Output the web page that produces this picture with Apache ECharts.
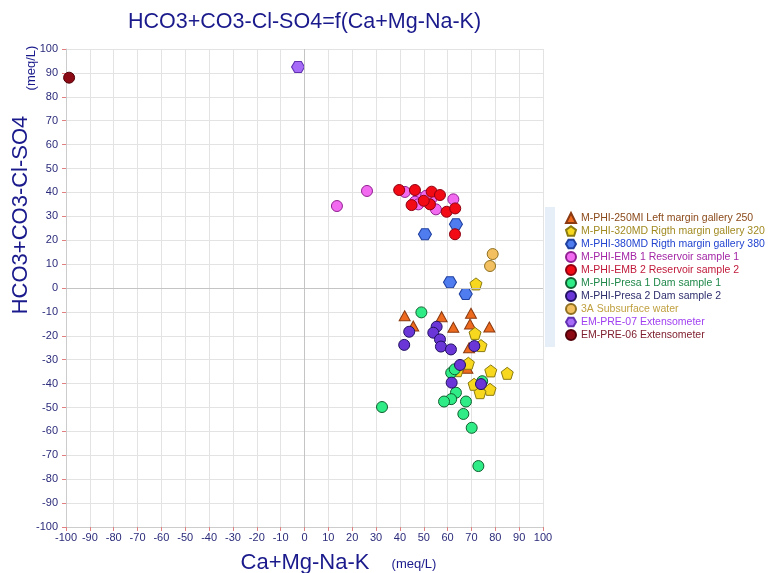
<!DOCTYPE html>
<html>
<head>
<meta charset="utf-8">
<title>HCO3+CO3-Cl-SO4=f(Ca+Mg-Na-K)</title>
<script src="https://cdn.jsdelivr.net/npm/echarts@6/dist/echarts.min.js"></script>
<style>
  html, body { margin: 0; padding: 0; background: #fff; }
  #main { width: 771px; height: 573px; }
</style>
</head>
<body>
<div id="main"></div>
<script type="text/javascript">
// axis ticks
var xTicks = [-100, 100, 10];
var yTicks = [-100, 100, 10];

// series names
var names = [
  'M-PHI-250MI Left margin gallery 250',
  'M-PHI-320MD Rigth margin gallery 320',
  'M-PHI-380MD Rigth margin gallery 380',
  'M-PHI-EMB 1 Reservoir sample 1',
  'M-PHI-EMB 2 Reservoir sample 2',
  'M-PHI-Presa 1 Dam sample 1',
  'M-PHI-Presa 2 Dam sample 2',
  '3A Subsurface water',
  'EM-PRE-07 Extensometer',
  'EM-PRE-06 Extensometer'
];

// [Ca+Mg-Na-K, HCO3+CO3-Cl-SO4]
var gallery250 = [[42, -11.6], [57.5, -12], [69.8, -10.6], [45.6, -15.9], [62.4, -16.4],
  [69.4, -15.1], [77.5, -16.3], [69, -25], [68.3, -33.6]];
var gallery320 = [[71.9, 1.7], [71.5, -19], [74, -24.1], [68.7, -31.5], [64.1, -34.6],
  [78.1, -34.7], [85, -35.7], [71.1, -40.3], [77.8, -42.4], [73.6, -43.8]];
var gallery380 = [[50.5, 22.5], [63.5, 26.7], [61, 2.4], [67.6, -2.5]];
var emb1 = [[13.6, 34.3], [26.2, 40.6], [42.1, 40.2], [48.1, 37.8], [46.3, 36.1], [47.7, 35],
  [53.3, 37.5], [55.1, 32.9], [62.4, 37.1], [51, 38.6]];
var emb2 = [[39.7, 41], [46.3, 41], [53.3, 40.3], [56.8, 38.9], [44.9, 34.7], [52.6, 35],
  [50, 36.5], [59.6, 31.9], [63.2, 33.3], [63.1, 22.5]];
var presa1 = [[49, -10.2], [32.5, -49.8], [61.5, -35.5], [63, -34], [74.5, -39], [63.5, -43.8],
  [61.5, -46.5], [58.5, -47.5], [67.7, -47.5], [66.6, -52.7], [70.1, -58.5], [72.9, -74.5]];
var presa2 = [[41.8, -23.8], [43.9, -18.3], [55.4, -16.2], [54, -18.7], [56.8, -21.5],
  [57.2, -24.5], [61.4, -25.7], [71.2, -24.3], [65.2, -32.2], [61.7, -39.6], [74, -40.2]];
var sub3A = [[78.9, 14.2], [77.8, 9.2]];
var pre07 = [[-2.7, 92.5]];
var pre06 = [[-98.7, 88]];

var datasets = [gallery250, gallery320, gallery380, emb1, emb2, presa1, presa2, sub3A, pre07, pre06];

var pentagon = 'path://M0,-1L0.951,-0.309L0.588,0.809L-0.588,0.809L-0.951,-0.309Z';
var hexagon = 'path://M-1,0L-0.5,-0.866L0.5,-0.866L1,0L0.5,0.866L-0.5,0.866Z';

var styles = [
  { symbol: 'triangle', size: [11, 10], fill: '#ee6a1e', border: '#8a3a10', text: '#8b4a1a' },
  { symbol: pentagon, size: [12, 12], fill: '#f7d81e', border: '#8a7a10', text: '#a08a20' },
  { symbol: hexagon, size: [13, 11], fill: '#4f7df0', border: '#2040a0', text: '#2244d0' },
  { symbol: 'circle', size: 11, fill: '#f26af0', border: '#902090', text: '#a326a6' },
  { symbol: 'circle', size: 11, fill: '#f20a14', border: '#900010', text: '#c01a3a' },
  { symbol: 'circle', size: 11, fill: '#30ec86', border: '#106030', text: '#20884a' },
  { symbol: 'circle', size: 11, fill: '#6a36d8', border: '#201060', text: '#2e2e6e' },
  { symbol: 'circle', size: 11, fill: '#f2c060', border: '#907020', text: '#c0a040' },
  { symbol: hexagon, size: [13, 11], fill: '#a66cf8', border: '#6030b0', text: '#a040f0' },
  { symbol: 'circle', size: 11, fill: '#8c0a14', border: '#500008', text: '#802030' }
];

var series = datasets.map(function (d, i) {
  return {
    name: names[i],
    type: 'scatter',
    data: d,
    symbol: styles[i].symbol,
    symbolSize: styles[i].size,
    itemStyle: { color: styles[i].fill, borderColor: styles[i].border, borderWidth: 1, opacity: 1 },
    z: 3
  };
});

// darker zero lines
series.push({
  type: 'scatter',
  data: [],
  silent: true,
  markLine: {
    silent: true,
    symbol: 'none',
    label: { show: false },
    lineStyle: { color: '#c4c4c4', width: 1, type: 'solid' },
    data: [{ xAxis: 0 }, { yAxis: 0 }]
  },
  z: 1
});

var chart = echarts.init(document.getElementById('main'));
chart.setOption({
  backgroundColor: '#fff',
  animation: false,
  title: {
    text: 'HCO3+CO3-Cl-SO4=f(Ca+Mg-Na-K)',
    left: 123,
    top: 6,
    textStyle: { color: '#1a1a8c', fontSize: 21.5, fontWeight: 'normal', fontFamily: 'Liberation Sans' }
  },
  grid: { left: 66, right: 228, top: 49, bottom: 46 },
  legend: {
    orient: 'vertical',
    left: 560,
    top: 207,
    itemWidth: 10,
    itemHeight: 10,
    itemGap: 1,
    textStyle: { fontSize: 10.5, lineHeight: 12, fontFamily: 'Liberation Sans' },
    data: names.map(function (n, i) {
      return { name: n, textStyle: { color: styles[i].text } };
    })
  },
  xAxis: {
    type: 'value',
    min: xTicks[0],
    max: xTicks[1],
    interval: xTicks[2],
    axisLine: { onZero: false, lineStyle: { color: '#cccccc' } },
    axisTick: { show: true, length: 4, lineStyle: { color: '#e08080' } },
    axisLabel: { color: '#2b2b7b', fontSize: 11, fontFamily: 'Liberation Sans', margin: 5 },
    splitLine: { show: true, lineStyle: { color: '#e3e3e3' } }
  },
  yAxis: {
    type: 'value',
    min: yTicks[0],
    max: yTicks[1],
    interval: yTicks[2],
    axisLine: { show: true, onZero: false, lineStyle: { color: '#cccccc' } },
    axisTick: { show: true, length: 4, lineStyle: { color: '#e08080' } },
    axisLabel: { color: '#2b2b7b', fontSize: 11, fontFamily: 'Liberation Sans', margin: 8 },
    splitLine: { show: true, lineStyle: { color: '#e3e3e3' } }
  },
  graphic: [
    { type: 'rect', left: 545, top: 207, shape: { width: 10, height: 140 }, style: { fill: '#e6eef7' }, silent: true },
    { type: 'text', x: 305, y: 563, style: { text: 'Ca+Mg-Na-K', fill: '#1a1a8c', font: '22px "Liberation Sans"', align: 'center', verticalAlign: 'middle' } },
    { type: 'text', x: 414, y: 564, style: { text: '(meq/L)', fill: '#1a1a8c', font: '13px "Liberation Sans"', align: 'center', verticalAlign: 'middle' } },
    { type: 'text', x: 21, y: 215, rotation: Math.PI / 2, style: { text: 'HCO3+CO3-Cl-SO4', fill: '#1a1a8c', font: '22px "Liberation Sans"', align: 'center', verticalAlign: 'middle' } },
    { type: 'text', x: 31, y: 68, rotation: Math.PI / 2, style: { text: '(meq/L)', fill: '#1a1a8c', font: '13px "Liberation Sans"', align: 'center', verticalAlign: 'middle' } }
  ],
  series: series
});
</script>
</body>
</html>
